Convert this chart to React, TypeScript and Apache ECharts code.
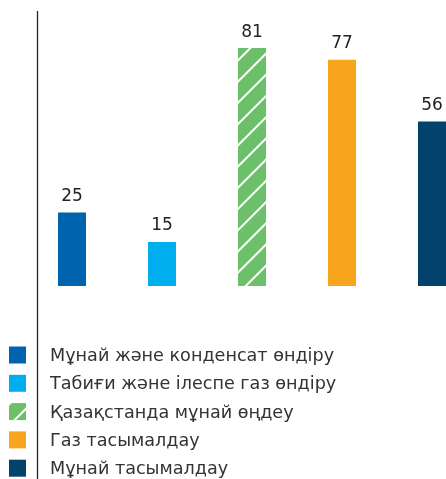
import React, { useEffect, useRef } from "react";
import * as echarts from "echarts";

const categories = [
  "Мұнай және конденсат өндіру",
  "Табиғи және ілеспе газ өндіру",
  "Қазақстанда мұнай өңдеу",
  "Газ тасымалдау",
  "Мұнай тасымалдау",
];
const values = [25, 15, 81, 77, 56];
const colors = ["#0063AE", "#00AEEF", "#6CC06A", "#F7A51D", "#03426B"];
const hatched = [false, false, true, false, false];

const FONT = "DejaVu Sans";

export default function App() {
  const ref = useRef<HTMLDivElement>(null);
  useEffect(() => {
    if (!ref.current) return;
    const chart = echarts.init(ref.current, undefined, { renderer: "svg" });
    const hatchDecal = {
      symbol: "rect",
      symbolSize: 1,
      color: "rgba(255,255,255,1)",
      dashArrayX: [1, 0],
      dashArrayY: [1.8, 12.5],
      rotation: -Math.PI / 4,
    };
    const series = categories.map((name, i) => ({
      name,
      type: "bar" as const,
      barWidth: 28,
      barGap: "-100%",
      data: values.map((v, j) => (j === i ? v : "-")),
      itemStyle: {
        color: colors[i],
        decal: hatched[i] ? hatchDecal : "none",
      },
      label: {
        show: true,
        position: "top" as const,
        distance: 9,
        fontSize: 17,
        fontFamily: FONT,
        color: "#222",
      },
    }));
    const legends = categories.map((name, i) => ({
      orient: "vertical",
      left: 9,
      top: 346 + i * 28.3,
      padding: 0,
      itemWidth: 17,
      itemHeight: 17,
      icon: "rect",
      selectedMode: false,
      textStyle: {
        fontSize: 17.6,
        lineHeight: 17,
        fontFamily: FONT,
        color: "#333",
        padding: [0, 0, 0, 19],
      },
      data: [name],
    }));
    chart.setOption({
      animation: false,
      aria: { enabled: true, decal: { show: false } },
      grid: {
        left: 27,
        right: -31,
        top: 21.6,
        bottom: 193,
        outerBoundsMode: "none",
        containLabel: false,
      },
      xAxis: {
        type: "category",
        data: categories,
        axisLine: { show: false },
        axisTick: { show: false },
        axisLabel: { show: false },
      },
      yAxis: {
        type: "value",
        min: 0,
        max: 90,
        axisLine: { show: false },
        axisTick: { show: false },
        axisLabel: { show: false },
        splitLine: { show: false },
      },
      legend: legends,
      graphic: [
        {
          type: "line",
          shape: { x1: 37.5, y1: 11, x2: 37.5, y2: 479 },
          style: { stroke: "#222", lineWidth: 1.3 },
          z: 10,
        },
      ],
      series,
    });
    return () => chart.dispose();
  }, []);
  return (
    <div
      ref={ref}
      style={{ position: "fixed", left: 0, top: 0, width: 446, height: 479 }}
    />
  );
}
